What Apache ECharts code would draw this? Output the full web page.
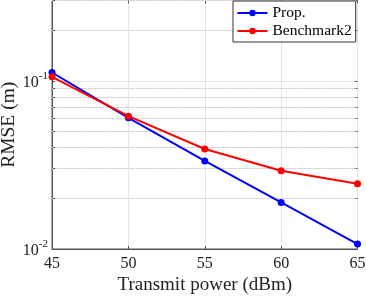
<!DOCTYPE html>
<html>
<head>
<meta charset="utf-8">
<script src="https://cdn.jsdelivr.net/npm/echarts@6/dist/echarts.min.js"></script>
<style>
html,body{margin:0;padding:0;background:#fff;}
#chart{width:366px;height:297px;}
</style>
</head>
<body>
<div id="chart"></div>
<script>
// ---- data ----
const powers = [45, 50, 55, 60, 65];
const propRmse = [0.112, 0.0602, 0.0334, 0.0189, 0.0107];
const bench2Rmse = [0.1055, 0.0616, 0.0393, 0.0292, 0.0244];
const seriesNames = ['Prop.', 'Benchmark2'];
const yLabelValues = [0.01, 0.1];
const yLabelExps = ['-2', '-1'];
const yMinorValues = [0.02, 0.03, 0.04, 0.05, 0.06, 0.07, 0.08, 0.09, 0.2, 0.3];
const yTickValues = [0.01, 0.02, 0.03, 0.04, 0.05, 0.06, 0.07, 0.08, 0.09, 0.1, 0.2, 0.3];

const FONT = '"Liberation Serif", "Times New Roman", serif';
const AX = '#555555';

function pairs(xs, ys) { return xs.map((x, i) => [x, ys[i]]); }

function yFormatter(v) {
  for (let i = 0; i < yLabelValues.length; i++) {
    if (Math.abs(Math.log10(v) - Math.log10(yLabelValues[i])) < 1e-6) {
      return '{b|10}{s|' + yLabelExps[i] + '}';
    }
  }
  return '';
}

const chart = echarts.init(document.getElementById('chart'), null, {renderer: 'canvas'});
chart.setOption({
  animation: false,
  backgroundColor: '#ffffff',
  grid: {
    left: 52, right: 8.5, top: 0.5, bottom: 48,
    containLabel: false, outerBoundsMode: 'none',
    show: true, borderColor: AX, borderWidth: 1, backgroundColor: 'transparent'
  },
  legend: {
    data: seriesNames,
    orient: 'vertical',
    left: 233, top: 1, z: 20,
    itemWidth: 30, itemHeight: 8, itemGap: 2,
    padding: [4, 4, 3, 3.5],
    borderColor: '#333', borderWidth: 1, backgroundColor: '#ffffff',
    textStyle: {fontFamily: FONT, fontSize: 15.5, color: '#000', lineHeight: 16}
  },
  xAxis: [{
    type: 'value', min: 45, max: 65, interval: 5,
    name: 'Transmit power (dBm)', nameLocation: 'middle', nameGap: 27, nameMoveOverlap: false,
    nameTextStyle: {fontFamily: FONT, fontSize: 19, color: '#222'},
    axisLine: {show: true, lineStyle: {color: AX, width: 1}},
    axisTick: {show: true, inside: true, length: 3, lineStyle: {color: AX}},
    axisLabel: {fontFamily: FONT, fontSize: 16, color: '#222', margin: 7},
    splitLine: {show: true, lineStyle: {color: '#e4e4e4', width: 1}}
  }, {
    type: 'value', min: 45, max: 65, interval: 5, position: 'top',
    axisLine: {show: false},
    axisTick: {show: true, inside: true, length: 3, lineStyle: {color: AX}},
    axisLabel: {show: false}, splitLine: {show: false}
  }],
  yAxis: [{
    type: 'log', logBase: 10, min: 0.01, max: 0.3,
    name: 'RMSE (m)', nameLocation: 'middle', nameGap: 33, nameMoveOverlap: false,
    nameTextStyle: {fontFamily: FONT, fontSize: 19.5, color: '#222'},
    axisLine: {show: true, lineStyle: {color: AX, width: 1}},
    axisTick: {show: true, inside: true, length: 3, customValues: yTickValues, lineStyle: {color: AX}},
    axisLabel: {
      formatter: yFormatter, margin: 4,
      rich: {
        b: {fontFamily: FONT, fontSize: 16, color: '#222', lineHeight: 20, verticalAlign: 'bottom'},
        s: {fontFamily: FONT, fontSize: 11, color: '#222', lineHeight: 11, verticalAlign: 'top'}
      }
    },
    splitLine: {show: true, lineStyle: {color: '#e4e4e4', width: 1}}
  }, {
    type: 'log', logBase: 10, min: 0.01, max: 0.3, position: 'right',
    axisLine: {show: false},
    axisTick: {show: true, inside: true, length: 3, customValues: yTickValues, lineStyle: {color: AX}},
    axisLabel: {show: false}, splitLine: {show: false}
  }],
  series: [{
    name: 'minorGrid', type: 'line', data: [], silent: true, z: 1,
    markLine: {
      silent: true, symbol: 'none', label: {show: false}, z: 1,
      lineStyle: {type: [1, 2], color: '#c8c8c8', width: 1},
      data: yMinorValues.map(v => ({yAxis: v}))
    }
  }, {
    name: seriesNames[0], type: 'line', data: pairs(powers, propRmse),
    symbol: 'circle', symbolSize: 7,
    lineStyle: {color: '#0000ff', width: 2},
    itemStyle: {color: '#0000ff'}
  }, {
    name: seriesNames[1], type: 'line', data: pairs(powers, bench2Rmse),
    symbol: 'circle', symbolSize: 7,
    lineStyle: {color: '#ff0000', width: 2},
    itemStyle: {color: '#ff0000'}
  }]
});
</script>
</body>
</html>
